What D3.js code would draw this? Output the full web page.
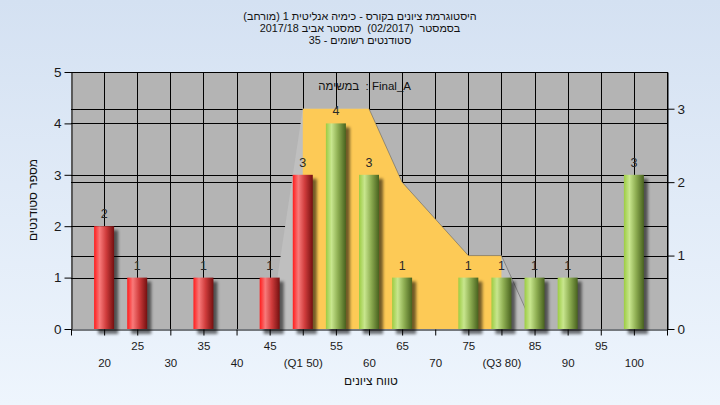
<!DOCTYPE html>
<html><head><meta charset="utf-8">
<script src="https://cdn.jsdelivr.net/npm/d3@7"></script>
<style>
html,body{margin:0;padding:0;}
body{width:720px;height:405px;overflow:hidden;}
svg{display:block;}
</style></head>
<body>
<svg id="c" width="720" height="405"></svg>
<script>
// ---- data ----
const categories = [20,25,30,35,40,45,50,55,60,65,70,75,80,85,90,95,100];
const counts     = [2, 1, 0, 1, 0, 1, 3, 4, 3, 1, 0, 1, 1, 1, 1, 0, 3];
const tickLabels = ["20","25","30","35","40","45","(Q1 50)","55","60","65","70","75","(Q3 80)","85","90","95","100"];
const areaX = [45,50,60,65,75,80,85];
const areaY = [0, 3, 3, 2, 1, 1, 0];
const q1 = 50, q3 = 80;
const leftTicks = [0,1,2,3,4,5];
const rightTicks = [0,1,2,3];
const titleLines = [
  "\u200Eהיסטוגרמת ציונים בקורס - כימיה אנליטית 1 (מורחב)",
  "בסמסטר  (02/2017)  סמסטר אביב 2017/18",
  "סטודנטים רשומים - 35"
];
const innerLabel = "\u200Eבמשימה  : Final_A";
const xTitle = "טווח ציונים";
const yTitle = "מספר סטודנטים";

// ---- layout ----
const L = 71, R = 667, T = 72, B = 329;
const font = "Liberation Sans, Arial, sans-serif";
const svg = d3.select("#c");
const defs = svg.append("defs");
const bg = defs.append("linearGradient").attr("id","bg").attr("x1",0).attr("y1",0).attr("x2",0).attr("y2",1);
bg.append("stop").attr("offset","0%").attr("stop-color","#d4e1f2");
bg.append("stop").attr("offset","100%").attr("stop-color","#eef5fd");
function grad(id, stops){
  const g = defs.append("linearGradient").attr("id",id).attr("x1",0).attr("y1",0).attr("x2",1).attr("y2",0);
  stops.forEach(s=>g.append("stop").attr("offset",s[0]).attr("stop-color",s[1]));
}
grad("red",[["0%","#ff1c1c"],["28%","#f87a7a"],["60%","#d03c3c"],["100%","#741010"]]);
grad("green",[["0%","#9ccc42"],["28%","#c8e68e"],["60%","#8eae52"],["100%","#48621e"]]);
const f = defs.append("filter").attr("id","blur").attr("x","-50%").attr("y","-50%").attr("width","200%").attr("height","200%");
f.append("feGaussianBlur").attr("stdDeviation",1.8);
defs.append("clipPath").attr("id","qclip").append("rect")
  .attr("x",0).attr("y",0).attr("width",1).attr("height",1);

svg.append("rect").attr("width",720).attr("height",405).attr("fill","url(#bg)");

const x = d3.scaleLinear().domain([15,105]).range([L,R]);
const yL = d3.scaleLinear().domain([0,5]).range([B,T]);
const yR = d3.scaleLinear().domain([0,3.5]).range([B,T]);

// plot background
svg.append("rect").attr("x",L).attr("y",T).attr("width",R-L).attr("height",B-T).attr("fill","#b4b4b4");

// gridlines
const grid = svg.append("g").attr("stroke","#000").attr("stroke-width",1);
categories.forEach(c=>grid.append("line").attr("x1",Math.round(x(c))+0.5).attr("x2",Math.round(x(c))+0.5).attr("y1",T).attr("y2",B));
leftTicks.filter(t=>t>0&&t<5).forEach(t=>grid.append("line").attr("x1",L).attr("x2",R).attr("y1",Math.round(yL(t))+0.5).attr("y2",Math.round(yL(t))+0.5));
rightTicks.filter(t=>t>0).forEach(t=>grid.append("line").attr("x1",L).attr("x2",R).attr("y1",Math.round(yR(t))+0.5).attr("y2",Math.round(yR(t))+0.5));

// area series
const pts = areaX.map((v,i)=>[v,areaY[i]]);
const area = d3.area().x(d=>x(d[0])).y0(B).y1(d=>yR(d[1]));
svg.append("path").attr("d",area(pts)).attr("fill","#bfbfbf");
svg.select("#qclip rect").attr("x",x(q1)).attr("y",T).attr("width",x(q3)-x(q1)).attr("height",B-T);
svg.append("path").attr("d",area(pts)).attr("fill","#fdca56").attr("clip-path","url(#qclip)");
svg.append("path").attr("d",d3.line().x(d=>x(d[0])).y(d=>yR(d[1]))(pts.slice(2)))
  .attr("fill","none").attr("stroke","#5a5a5a").attr("stroke-opacity",0.55).attr("stroke-width",1);

// bars
const bw = 20;
const data = categories.map((c,i)=>({c, v:counts[i]})).filter(d=>d.v>0);
svg.append("g").selectAll("rect").data(data).join("rect")
  .attr("x",d=>x(d.c)-bw/2+4).attr("y",d=>yL(d.v)+4)
  .attr("width",bw).attr("height",d=>B-yL(d.v)+1)
  .attr("fill","#000").attr("opacity",0.55).attr("filter","url(#blur)");
svg.append("g").selectAll("rect").data(data).join("rect")
  .attr("x",d=>x(d.c)-bw/2).attr("y",d=>yL(d.v))
  .attr("width",bw).attr("height",d=>B-yL(d.v))
  .attr("fill",d=>d.c<=q1?"url(#red)":"url(#green)");
svg.append("g").selectAll("text").data(data).join("text")
  .attr("x",d=>x(d.c)).attr("y",d=>yL(d.v)-8)
  .attr("text-anchor","middle").attr("font-family",font)
  .attr("font-size",12.5).attr("fill","#2a2a2a").text(d=>d.v);

// inner label
svg.append("text").attr("x",411).attr("y",90).attr("text-anchor","end")
  .attr("font-family",font).attr("font-size",11.5).attr("fill","#111")
  .style("white-space","pre").text(innerLabel);

// frame
svg.append("line").attr("x1",L).attr("x2",R).attr("y1",T+0.5).attr("y2",T+0.5).attr("stroke","#000");

// axes
const gx = svg.append("g").attr("transform",`translate(0,${B+0.5})`)
  .call(d3.axisBottom(x).tickValues(categories).tickSize(6).tickSizeOuter(6).tickFormat((d,i)=>tickLabels[i]));
gx.selectAll("text").attr("font-family",font).attr("font-size",11.5).attr("fill","#1a1a1a")
  .attr("dy",null).attr("y",(d,i)=>i%2===0?37:20);
gx.select(".domain").attr("stroke","#000");
gx.selectAll(".tick line").attr("stroke","#000");

const gl = svg.append("g").attr("transform",`translate(${L+0.5},0)`)
  .call(d3.axisLeft(yL).tickValues(leftTicks).tickSize(7).tickSizeOuter(0).tickPadding(3).tickFormat(d3.format("d")));
gl.selectAll("text").attr("font-family",font).attr("font-size",13.5).attr("fill","#1a1a1a");
gl.select(".domain").attr("stroke","#000");
svg.append("line").attr("x1",L+0.5).attr("x2",L+0.5).attr("y1",B).attr("y2",B+6).attr("stroke","#000");

const gr = svg.append("g").attr("transform",`translate(${R+0.5},0)`)
  .call(d3.axisRight(yR).tickValues(rightTicks).tickSize(7).tickSizeOuter(0).tickPadding(3).tickFormat(d3.format("d")));
gr.selectAll("text").attr("font-family",font).attr("font-size",13.5).attr("fill","#1a1a1a");
gr.select(".domain").attr("stroke","#000");
svg.append("line").attr("x1",R+0.5).attr("x2",R+0.5).attr("y1",T).attr("y2",B+6).attr("stroke","#000");

// titles
svg.append("g").selectAll("text").data(titleLines).join("text")
  .attr("x",360).attr("y",(d,i)=>20+i*12).attr("text-anchor","middle")
  .attr("font-family",font).attr("font-size",10.8).attr("fill","#111")
  .style("white-space","pre").text(d=>d);
svg.append("text").attr("x",371).attr("y",385).attr("text-anchor","middle")
  .attr("font-family",font).attr("font-size",12).attr("fill","#111").text(xTitle);
svg.append("text").attr("transform","translate(37,200) rotate(-90)").attr("text-anchor","middle")
  .attr("font-family",font).attr("font-size",12).attr("fill","#111").text(yTitle);
</script>
</body></html>
